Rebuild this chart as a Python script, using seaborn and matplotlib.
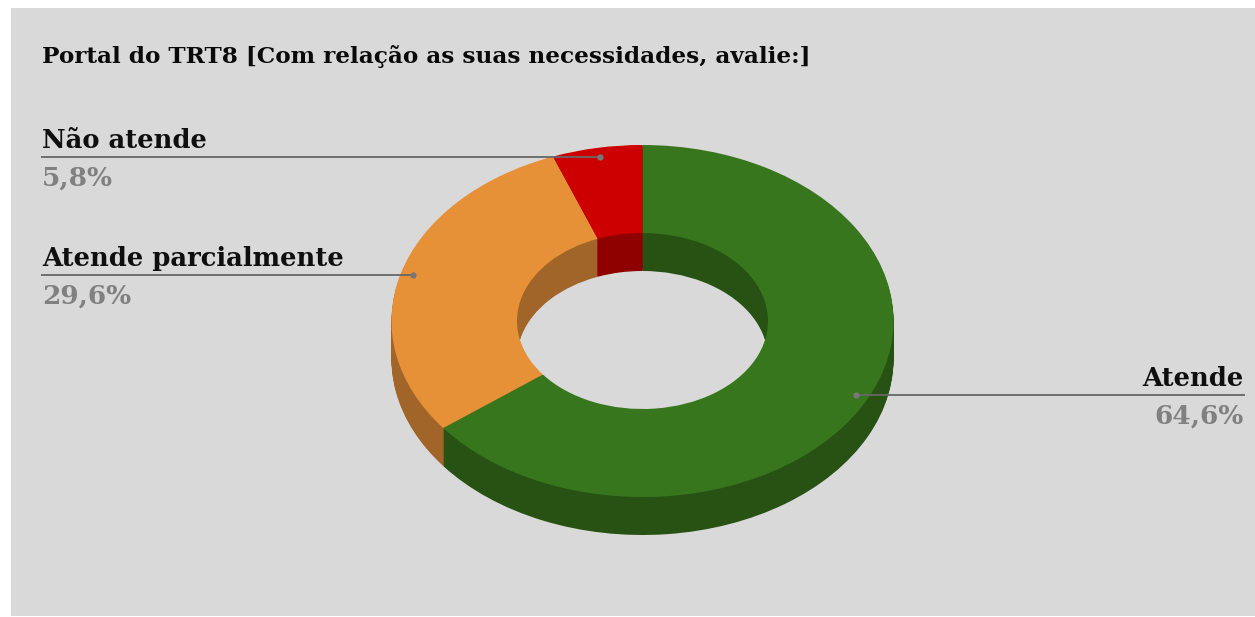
import seaborn as sns
import matplotlib
matplotlib.use("Agg")
import matplotlib.pyplot as plt

title = "Portal do TRT8 [Com relação as suas necessidades, avalie:]"
categories = ["Atende", "Atende parcialmente", "Não atende"]
values = [64.6, 29.6, 5.8]
top_colors = ["#38761d", "#e69138", "#cc0000"]
side_colors = ["#275214", "#a1652a", "#8f0000"]

W, H = 1255, 617
cx, cy, rx, ry, depth = 642.5, 321, 251, 176, 38
hole = 0.5

sns.set_theme(style="white")
plt.rcParams["font.family"] = ["DejaVu Serif"]

fig = plt.figure(figsize=(W / 100, H / 100), dpi=100, facecolor="white")

# grey panel behind everything
bg = fig.add_axes([11 / W, 1 / H, (W - 11) / W, (H - 9) / H], facecolor="#d9d9d9")
bg.set_xticks([])
bg.set_yticks([])
for s in bg.spines.values():
    s.set_visible(False)

# donut axes, unit circle squashed to the ellipse
ax = fig.add_axes([(cx - 1.25 * rx) / W, 1 - (cy + 1.25 * ry) / H, 2.5 * rx / W, 2.5 * ry / H])
ax.patch.set_alpha(0)

# stack of dark rings gives the thickness
for px in range(depth, 0, -1):
    ax.pie(values, colors=side_colors, startangle=90, counterclock=False, center=(0, -px / ry),
           wedgeprops=dict(width=hole, edgecolor=None, linewidth=0, antialiased=True))
ax.pie(values, colors=top_colors, startangle=90, counterclock=False,
       wedgeprops=dict(width=hole, linewidth=0))
ax.set_aspect("auto")
ax.set_xlim(-1.25, 1.25)
ax.set_ylim(-1.25, 1.25)

# overlay in pixels for title and callouts
ov = fig.add_axes([0, 0, 1, 1])
ov.patch.set_alpha(0)
ov.set_xlim(0, W)
ov.set_ylim(H, 0)
ov.axis("off")

ov.text(42, 63, title, fontsize=16.7, fontweight="bold", color="#0a0a0a", va="baseline", ha="left")

# label x, line y, line start, line end, alignment
callouts = [
    (1244, 395, 1245, 856, "right"),
    (42, 275, 41, 413, "left"),
    (42, 157, 41, 600, "left"),
]
for name, val, (tx, ly, x0, x1, al) in zip(categories, values, callouts):
    ov.plot([x0, x1], [ly, ly], color="#666666", lw=1.3, solid_capstyle="butt")
    ov.plot([x1], [ly], "o", color="#777777", ms=4.5, mew=0)
    ov.text(tx, ly - 9, name, fontsize=18.6, fontweight="bold", color="#0f0f0f", ha=al, va="baseline")
    ov.text(tx, ly + 29, f"{val:.1f}".replace(".", ",") + "%", fontsize=19, fontweight="bold",
            color="#808080", ha=al, va="baseline")

fig.savefig("out.png", dpi=100, facecolor="white")
